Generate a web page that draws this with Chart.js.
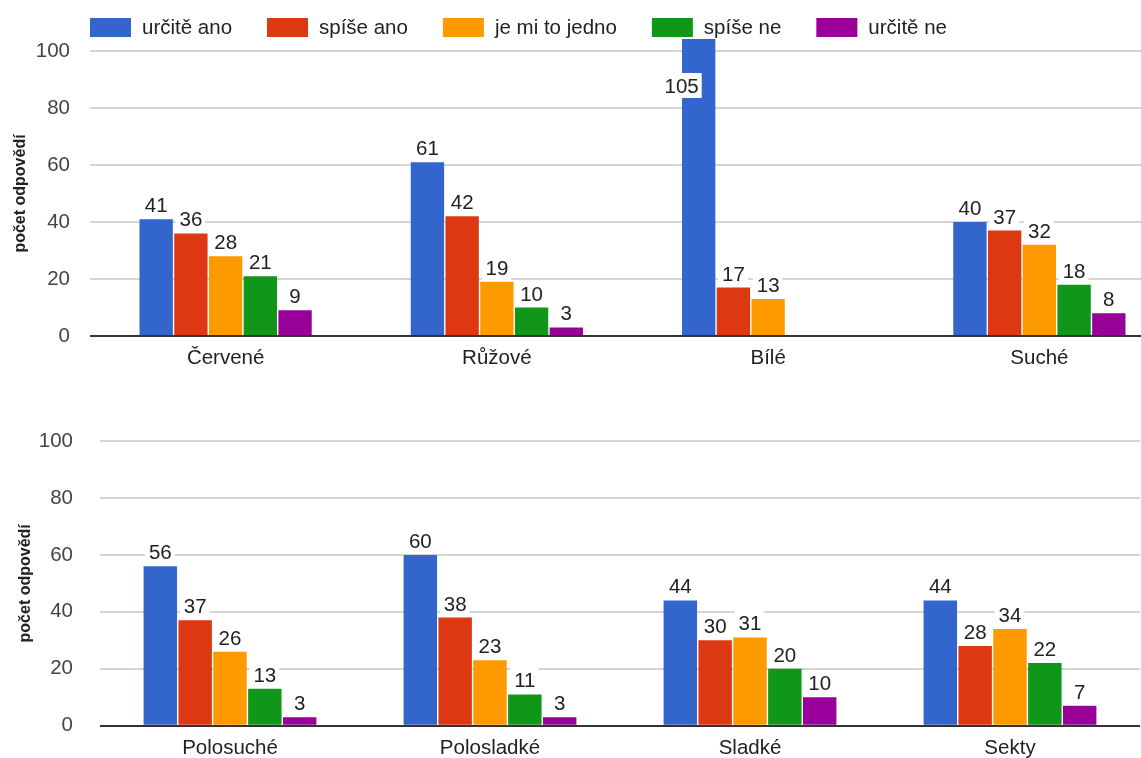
<!DOCTYPE html>
<html lang="cs">
<head>
<meta charset="utf-8">
<title>Oblíbenost vín</title>
<script src="https://cdn.jsdelivr.net/npm/chart.js@4.4.1/dist/chart.umd.min.js"></script>
<style>
  html, body { margin: 0; padding: 0; background: #fff; overflow: hidden; }
  #wrap { position: relative; width: 1141px; height: 758px; overflow: hidden; }
  #chartTop { position: absolute; left: 0; top: 0; }
  #chartBottom { position: absolute; left: 0; top: 390px; }
</style>
</head>
<body>
<div id="wrap">
  <canvas id="chartTop" width="1176" height="372"></canvas>
  <canvas id="chartBottom" width="1141" height="375"></canvas>
</div>
<script>
'use strict';

const seriesNames = ['určitě ano', 'spíše ano', 'je mi to jedno', 'spíše ne', 'určitě ne'];
const seriesColors = ['#3366cc', '#dc3912', '#ff9900', '#109618', '#990099'];
const yTicks = [0, 20, 40, 60, 80, 100];
const axisTitle = 'počet odpovědí';

// horní graf - druhy vín podle barvy
const topCategories = ['Červené', 'Růžové', 'Bílé', 'Suché'];
const topUrciteAno = [41, 61, 105, 40];
const topSpiseAno = [36, 42, 17, 37];
const topJedno = [28, 19, 13, 32];
const topSpiseNe = [21, 10, 0, 18];
const topUrciteNe = [9, 3, 0, 8];

// dolní graf - podle sladkosti
const bottomCategories = ['Polosuché', 'Polosladké', 'Sladké', 'Sekty'];
const bottomUrciteAno = [56, 60, 44, 44];
const bottomSpiseAno = [37, 38, 30, 28];
const bottomJedno = [26, 23, 31, 34];
const bottomSpiseNe = [13, 11, 20, 22];
const bottomUrciteNe = [3, 3, 10, 7];

const FONT = '"Liberation Sans", Arial, sans-serif';
const FONT_SIZE = 20.5;

// popisky hodnot nad sloupci (na bílém podkladu)
const valueLabels = {
  id: 'valueLabels',
  afterDatasetsDraw(chart) {
    const { ctx, chartArea } = chart;
    ctx.save();
    ctx.font = FONT_SIZE + 'px ' + FONT;
    ctx.textAlign = 'right';
    ctx.textBaseline = 'alphabetic';
    chart.data.datasets.forEach((ds, i) => {
      chart.getDatasetMeta(i).data.forEach((bar, j) => {
        const v = ds.data[j];
        if (!v) return;
        const txt = String(v);
        const w = ctx.measureText(txt).width;
        let right, base;
        if (bar.y < chartArea.top) {
          // hodnota nad rozsahem osy - popisek jde dovnitř sloupce
          right = bar.x;
          base = chartArea.top + 42;
        } else {
          right = bar.x + w / 2;
          base = bar.y - 7;
        }
        ctx.fillStyle = '#fff';
        ctx.fillRect(right - w - 4, base - 20, w + 7, 25);
        ctx.fillStyle = '#222';
        ctx.fillText(txt, right, base);
      });
    });
    ctx.restore();
  }
};

// legenda v řádku nad horním grafem
const topLegend = {
  id: 'topLegend',
  afterDraw(chart) {
    const { ctx, chartArea } = chart;
    ctx.save();
    ctx.font = FONT_SIZE + 'px ' + FONT;
    ctx.textBaseline = 'middle';
    ctx.textAlign = 'left';
    let x = chartArea.left;
    chart.data.datasets.forEach(ds => {
      ctx.fillStyle = ds.backgroundColor;
      ctx.fillRect(x, 18, 41, 19);
      ctx.fillStyle = '#222';
      ctx.fillText(ds.label, x + 52, 28);
      x += 52 + ctx.measureText(ds.label).width + 35;
    });
    ctx.restore();
  }
};

function buildChart(id, categories, values, o) {
  return new Chart(document.getElementById(id), {
    type: 'bar',
    data: {
      labels: categories,
      datasets: values.map((d, i) => ({
        label: seriesNames[i],
        data: d,
        backgroundColor: seriesColors[i],
        borderWidth: 0,
        categoryPercentage: o.groupWidth,
        barPercentage: 0.96,
        clip: { left: 0, top: 12, right: 0, bottom: 0 }
      }))
    },
    options: {
      responsive: false,
      animation: false,
      layout: { padding: { top: 51, right: 1, bottom: 0, left: 0 } },
      plugins: {
        legend: { display: false },
        tooltip: { enabled: false }
      },
      scales: {
        x: {
          grid: { display: false, drawTicks: false },
          border: { display: false },
          ticks: { padding: 10, color: '#222', font: { family: FONT, size: FONT_SIZE } },
          afterFit(scale) { scale.height = o.xHeight; }
        },
        y: {
          min: yTicks[0],
          max: yTicks[yTicks.length - 1],
          ticks: {
            stepSize: yTicks[1] - yTicks[0],
            padding: o.tickPad,
            color: '#444',
            font: { family: FONT, size: FONT_SIZE }
          },
          grid: {
            drawTicks: false,
            lineWidth: 2,
            color: c => (c.tick && c.tick.value === 0 ? '#333' : '#d4d4d4')
          },
          border: { display: false },
          title: {
            display: true,
            text: axisTitle,
            color: '#222',
            font: { family: FONT, size: 16, weight: 'bold' },
            padding: { top: o.titlePad, bottom: 0 }
          },
          afterFit(scale) { scale.width = o.yWidth; }
        }
      }
    },
    plugins: o.legend ? [valueLabels, topLegend] : [valueLabels]
  });
}

buildChart('chartTop', topCategories,
  [topUrciteAno, topSpiseAno, topJedno, topSpiseNe, topUrciteNe],
  { groupWidth: 0.64, xHeight: 36, yWidth: 90, tickPad: 20, titlePad: 11, legend: true });

buildChart('chartBottom', bottomCategories,
  [bottomUrciteAno, bottomSpiseAno, bottomJedno, bottomSpiseNe, bottomUrciteNe],
  { groupWidth: 0.67, xHeight: 33, yWidth: 100, tickPad: 27, titlePad: 16, legend: false });
</script>
</body>
</html>
